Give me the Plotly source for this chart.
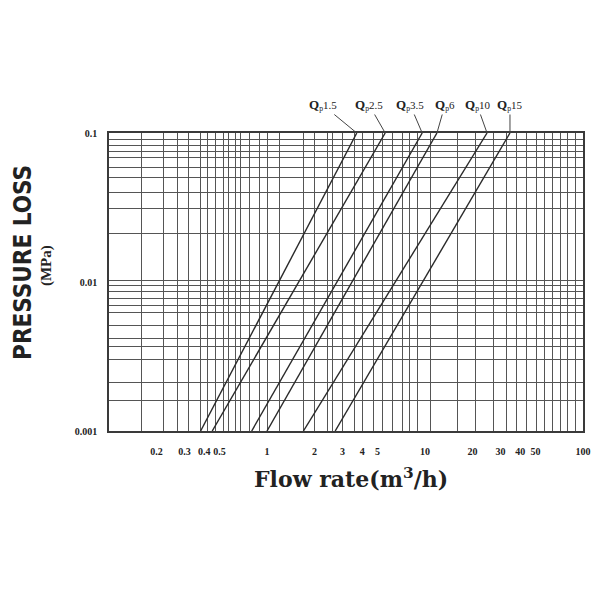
import numpy as np
import plotly.graph_objects as go

# ---- data ----
series_labels = ["1.5", "2.5", "3.5", "6", "10", "15"]
pressure_ends = [0.001, 0.1]                      # MPa
flow_at_0001 = [0.38, 0.45, 0.80, 1.0, 1.7, 2.7]  # m3/h at 0.001 MPa
flow_at_01 = [3.7, 5.6, 9.6, 11.9, 24.7, 34.5]    # m3/h at 0.1 MPa

x_tick_vals = [0.2, 0.3, 0.4, 0.5, 1, 2, 3, 4, 5, 10, 20, 30, 40, 50, 100]
x_tick_text = ["0.2", "0.3", "0.4", "0.5", "1", "2", "3", "4", "5", "10", "20", "30", "40", "50", "100"]
y_tick_vals = [0.001, 0.01, 0.1]
y_tick_text = ["0.001", "0.01", "0.1"]

# grid line positions (style)
x_grid = [0.16, 0.22, 0.27, 0.32, 0.38, 0.42, 0.47, 0.53, 0.57, 0.63, 0.68, 0.77, 0.89, 1.0,
          1.2, 1.7, 2.0, 2.4, 2.6, 3.0, 3.6, 4.0, 4.7, 5.4, 6.2, 7.2, 8.0, 9.0, 10.8,
          16, 21, 27, 33, 38, 44, 51, 57, 64, 72, 80, 89]
y_grid = [0.09, 0.082, 0.075, 0.068, 0.059, 0.05, 0.04, 0.031, 0.021, 0.0103,
          0.0095, 0.0086, 0.0078, 0.007, 0.0062, 0.0051, 0.0042, 0.0037, 0.003, 0.0021, 0.0016]

label_offsets = [(-34, -28), (-16, -28), (-12, -28), (8, -28), (-10, -28), (0, -28)]

INK = "#3a3a3a"
SERIF = "Liberation Serif, DejaVu Serif, serif"

fig = go.Figure()
for name, q0, q1 in zip(series_labels, flow_at_0001, flow_at_01):
    fig.add_trace(go.Scatter(x=[q0, q1], y=pressure_ends, mode="lines",
                             line=dict(color="#2a2a2a", width=1.4),
                             name="Qp" + name, showlegend=False, hoverinfo="x+y+name"))

for name, q1, (ax, ay) in zip(series_labels, flow_at_01, label_offsets):
    fig.add_annotation(x=np.log10(q1), y=np.log10(pressure_ends[1]), xref="x", yref="y",
                       text="<b><span style='font-size:13px'>Q</span></b><sub>p</sub>" + name,
                       showarrow=True, arrowhead=0,
                       arrowwidth=1, arrowcolor="#444", ax=ax, ay=ay,
                       font=dict(family=SERIF, size=11, color="#222"))

fig.update_xaxes(type="log", range=[-1, 2], tickmode="array", tickvals=x_tick_vals,
                 ticktext=x_tick_text, showgrid=False, ticks="", ticklabelstandoff=10,
                 tickfont=dict(family=SERIF, size=10, color="#222", weight="bold"),
                 showline=True, linecolor=INK, linewidth=1.5, mirror=True, zeroline=False,
                 minor=dict(tickmode="array", tickvals=x_grid, showgrid=True,
                            gridcolor="#555", gridwidth=1, ticks=""))
fig.update_yaxes(type="log", range=[-3, -1], tickmode="array", tickvals=y_tick_vals,
                 ticktext=y_tick_text, showgrid=False, ticks="", ticklabelstandoff=8,
                 tickfont=dict(family=SERIF, size=10, color="#222", weight="bold"),
                 showline=True, linecolor=INK, linewidth=1.5, mirror=True, zeroline=False,
                 minor=dict(tickmode="array", tickvals=y_grid, showgrid=True,
                            gridcolor="#555", gridwidth=1, ticks=""))

fig.add_annotation(text="PRESSURE LOSS", xref="paper", yref="paper", x=-0.183, y=0.565,
                   xanchor="center", yanchor="middle", textangle=-90, showarrow=False,
                   font=dict(family="DejaVu Sans Condensed, Liberation Sans Narrow, DejaVu Sans, sans-serif",
                             size=24, color="#222", weight="bold"))
fig.add_annotation(text="(MPa)", xref="paper", yref="paper", x=-0.132, y=0.555,
                   xanchor="center", yanchor="middle", textangle=-90, showarrow=False,
                   font=dict(family=SERIF, size=15, color="#222", weight="bold"))
fig.add_annotation(text="Flow rate(m<sup>3</sup>/h)", xref="paper", yref="paper", x=0.51, y=-0.157,
                   xanchor="center", yanchor="middle", showarrow=False,
                   font=dict(family="DejaVu Serif, serif", size=22, color="#222", weight="bold"))

fig.update_layout(width=600, height=600, margin=dict(l=101, r=25, t=125, b=177),
                  paper_bgcolor="white", plot_bgcolor="white")
fig.write_html("out.html")
